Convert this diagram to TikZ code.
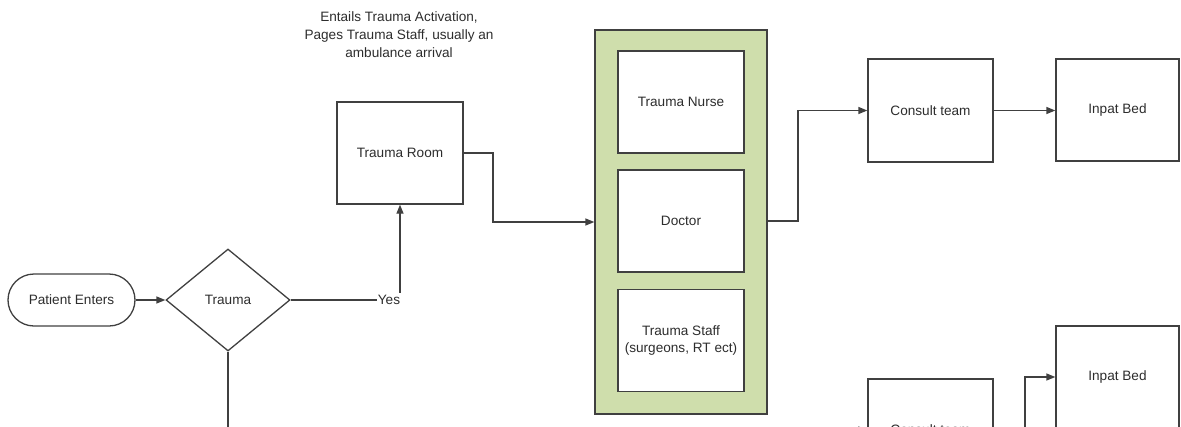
\documentclass[tikz,border=0pt]{standalone}
\usepackage{fontspec}
\setmainfont{Liberation Sans}
\usetikzlibrary{shapes.geometric,arrows.meta}
\definecolor{edge}{RGB}{64,64,64}
\definecolor{ink}{RGB}{45,45,45}
\definecolor{teamgreen}{RGB}{207,222,172}
\tikzset{
  base/.style={draw=edge, line width=1.3pt, text=ink, font=\fontsize{13.6}{17}\selectfont, align=center, inner sep=0pt},
  box/.style={base, rectangle, fill=white, minimum width=126pt, minimum height=102pt},
  terminal/.style={base, rectangle, rounded corners=26pt, minimum width=127pt, minimum height=52pt},
  decision/.style={base, diamond, aspect=1.22, minimum width=124pt, minimum height=102pt},
  group/.style={base, rectangle, fill=teamgreen, minimum width=172pt, minimum height=384pt},
  link/.style={draw=edge, line width=1.3pt, -{Triangle[length=9pt,width=7pt]}},
  plain/.style={draw=edge, line width=1.3pt},
  note/.style={text=ink, font=\fontsize{13.6}{18}\selectfont, align=center, inner sep=0pt}
}
\begin{document}
\begin{tikzpicture}[x=1pt,y=-1pt]
\useasboundingbox (0,0) rectangle (1181,426);
\clip (0,0) rectangle (1181,426);

% left part: entry and decision
\node[terminal] (enter) at (71.5,300) {Patient Enters};
\node[decision] (trauma) at (228,300) {Trauma};
\node[box] (room) at (400,153) {Trauma Room};
\node[note] (activation) at (399,35) {Entails Trauma Activation,\\Pages Trauma Staff, usually an\\ambulance arrival};

% trauma team container
\node[group] (team) at (681,222) {};
\node[box] (nurse) at (681,102) {Trauma Nurse};
\node[box] (doctor) at (681,221) {Doctor};
\node[box] (staff) at (681,340.5) {Trauma Staff\\(surgeons, RT ect)};

% right part
\node[box, minimum width=125pt, minimum height=103pt] (consult) at (930.5,110.5) {Consult team};
\node[box, minimum width=123pt, minimum height=102pt] (bed) at (1117.5,110) {Inpat Bed};
\node[box, minimum width=123pt, minimum height=102pt] (bed2) at (1117.5,377) {Inpat Bed};
\node[box, minimum width=125pt, minimum height=102pt] (consult2) at (930.5,430) {Consult team};

\coordinate (down) at (228,440);
\coordinate (in2) at (845,430);

% connectors
\draw[link] (enter) -- (trauma);
\draw[link] (trauma.east) -- (400,300) -- (room.south);
\node[note, fill=white, inner xsep=1pt, inner ysep=2pt] (yes) at (389,300) {Yes};
\draw[plain] (trauma.south) -- (down);
\draw[link] (room.east) -- (493,153) -- (493,222) -- (team.west |- 0,222);
\draw[link] (team.east |- 0,221) -- (798,221) -- (798,110.5) -- (consult.west);
\draw[link] (consult.east) -- (bed.west |- consult.east);
\draw[link] (in2) -- (consult2.west);
\draw[link] (consult2.east) -- (1025,430) -- (1025,377) -- (bed2.west);
\end{tikzpicture}
\end{document}
